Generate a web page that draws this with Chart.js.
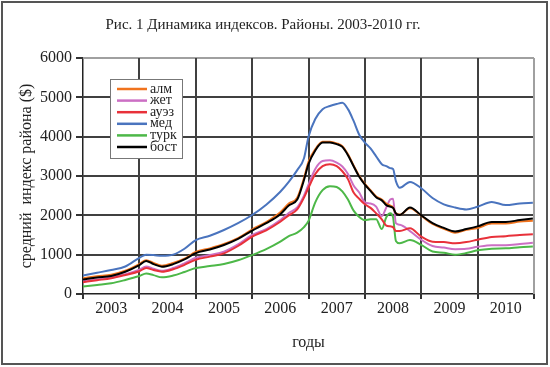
<!DOCTYPE html>
<html>
<head>
<meta charset="utf-8">
<script src="https://cdn.jsdelivr.net/npm/chart.js@4.4.1/dist/chart.umd.min.js"></script>
<style>
  html, body { margin: 0; padding: 0; background: #ffffff; }
  #wrap { width: 550px; height: 367px; position: relative; }
</style>
</head>
<body>
<div id="wrap"><canvas id="c" width="550" height="367"></canvas></div>
<script>
const SERIF = "'Liberation Serif', 'Times New Roman', serif";

const titleText = "Рис. 1 Динамика индексов. Районы. 2003-2010 гг.";
const yTitle = "средний  индекс района ($)";
const xTitle = "годы";
const years = [2003, 2004, 2005, 2006, 2007, 2008, 2009, 2010];
const yTickValues = [0, 1000, 2000, 3000, 4000, 5000, 6000];
const yMin = 0, yMax = 6000, yStep = 1000;

const dates = [2003.0, 2003.25, 2003.5, 2003.75, 2004.0, 2004.12, 2004.25, 2004.4, 2004.6, 2004.8,
  2005.0, 2005.25, 2005.5, 2005.75, 2006.0, 2006.25, 2006.5, 2006.65, 2006.8, 2006.92,
  2007.0, 2007.12, 2007.25, 2007.38, 2007.5, 2007.6, 2007.7, 2007.8, 2007.9, 2008.0,
  2008.1, 2008.2, 2008.3, 2008.38, 2008.45, 2008.5, 2008.55, 2008.62, 2008.8, 2009.0,
  2009.2, 2009.4, 2009.6, 2009.8, 2010.0, 2010.25, 2010.5, 2010.75, 2010.98];

const alm = [400, 450, 490, 590, 760, 860, 790, 720, 790, 900,
  1070, 1160, 1270, 1420, 1640, 1830, 2080, 2300, 2450, 2950,
  3360, 3680, 3870, 3870, 3830, 3760, 3550, 3270, 3000, 2800,
  2640, 2480, 2400, 2300, 2250, 2200, 2050, 2020, 2180, 1990,
  1780, 1660, 1560, 1630, 1680, 1790, 1790, 1840, 1860];

const zhet = [330, 370, 420, 500, 620, 700, 640, 590, 660, 780,
  920, 990, 1075, 1260, 1500, 1650, 1880, 2060, 2200, 2500,
  2780, 3180, 3380, 3400, 3340, 3240, 3050, 2760, 2580, 2330,
  2300, 2220, 1980, 2200, 2400, 2420, 1800, 1760, 1600, 1380,
  1220, 1180, 1140, 1150, 1200, 1240, 1240, 1270, 1300];

const auez = [300, 350, 400, 483, 580, 660, 610, 567, 630, 740,
  870, 950, 1034, 1220, 1457, 1620, 1838, 2000, 2150, 2450,
  2700, 3050, 3250, 3300, 3250, 3120, 2920, 2580, 2420, 2280,
  2190, 2050, 1900, 1740, 1720, 1700, 1600, 1600, 1670, 1460,
  1330, 1320, 1290, 1320, 1380, 1450, 1470, 1500, 1520];

const med = [470, 540, 610, 700, 920, 1000, 990, 970, 1000, 1150,
  1370, 1480, 1627, 1800, 2008, 2270, 2600, 2850, 3150, 3450,
  4000, 4450, 4700, 4780, 4830, 4860, 4700, 4400, 4050, 3850,
  3700, 3500, 3300, 3250, 3200, 3180, 2870, 2700, 2850, 2690,
  2440, 2280, 2200, 2150, 2220, 2340, 2260, 2300, 2320];

const turk = [190, 230, 272, 356, 457, 520, 480, 423, 470, 560,
  660, 710, 763, 860, 990, 1140, 1330, 1470, 1560, 1700,
  1860, 2330, 2640, 2740, 2720, 2610, 2400, 2120, 1960, 1880,
  1900, 1900, 1650, 1950, 2050, 1950, 1350, 1290, 1370, 1250,
  1080, 1050, 1000, 1040, 1110, 1150, 1160, 1190, 1210];

const bost = [370, 420, 460, 567, 737, 840, 760, 695, 760, 880,
  1040, 1130, 1245, 1400, 1610, 1800, 2030, 2250, 2400, 2900,
  3300, 3650, 3850, 3850, 3810, 3740, 3530, 3250, 2980, 2780,
  2620, 2460, 2380, 2260, 2220, 2190, 2050, 2010, 2200, 2000,
  1800, 1680, 1590, 1650, 1720, 1830, 1830, 1880, 1920];

const seriesNames = ["алм", "жет", "ауэз", "мед", "турк", "бост"];
const seriesValues = [alm, zhet, auez, med, turk, bost];
const seriesColors = ["#F0731E", "#CC6FC4", "#E8313A", "#4A74BE", "#4DB848", "#000000"];
const seriesOrder = [2, 4, 3, 5, 6, 1];

const datasets = seriesNames.map((name, k) => ({
  label: name,
  data: dates.map((d, i) => ({ x: d, y: seriesValues[k][i] })),
  borderColor: seriesColors[k],
  backgroundColor: seriesColors[k],
  borderWidth: 2,
  pointRadius: 0,
  fill: false,
  cubicInterpolationMode: 'monotone',
  order: seriesOrder[k],
  xAxisID: 'x'
}));

// grid lines and tick marks, positioned by the chart's own scales
const gridPlugin = {
  id: 'gridLines',
  beforeDatasetsDraw(chart) {
    const ctx = chart.ctx;
    const xs = chart.scales.x, ys = chart.scales.y;
    const left = Math.round(xs.left), right = Math.round(xs.right);
    const top = Math.round(ys.top), bottom = Math.round(ys.bottom);
    ctx.save();
    yTickValues.forEach(v => {
      const py = Math.round(ys.getPixelForValue(v));
      ctx.fillStyle = '#333333';
      ctx.fillRect(left - 7, py - 1, 7, 2);
      if (v !== yMin) {
        ctx.fillStyle = v === yMax ? '#a0a0a0' : '#404040';
        ctx.fillRect(left, py - 1, right - left, 2);
      }
    });
    const xEdges = years.concat([years[years.length - 1] + 1]);
    xEdges.forEach(v => {
      const px = Math.round(xs.getPixelForValue(v));
      if (v !== xEdges[0]) {
        ctx.fillStyle = v === xEdges[xEdges.length - 1] ? '#a0a0a0' : '#404040';
        ctx.fillRect(px - 1, top, 2, bottom - top);
      }
      ctx.fillStyle = '#333333';
      ctx.fillRect(px - 1, bottom, 2, 5);
    });
    ctx.restore();
  }
};

const decorPlugin = {
  id: 'decor',
  afterDraw(chart) {
    const ctx = chart.ctx;
    const xs = chart.scales.x, ys = chart.scales.y;
    ctx.save();
    ctx.strokeStyle = '#555555';
    ctx.lineWidth = 2;
    ctx.strokeRect(2, 2, 545, 362);
    ctx.fillStyle = '#222222';
    ctx.font = "15px " + SERIF;
    ctx.textAlign = 'center';
    ctx.textBaseline = 'middle';
    ctx.fillText(titleText, 263, 25);
    ctx.font = "16px " + SERIF;
    ctx.fillText(xTitle, (xs.left + xs.right) / 2, 343);
    ctx.save();
    ctx.translate(27, (ys.top + ys.bottom) / 2);
    ctx.rotate(-Math.PI / 2);
    ctx.fillText(yTitle, 0, 0);
    ctx.restore();
    const lx = 110, ly = 79, lw = 72, lh = 79;
    ctx.fillStyle = '#ffffff';
    ctx.fillRect(lx, ly, lw, lh);
    ctx.strokeStyle = '#777777';
    ctx.lineWidth = 1;
    ctx.strokeRect(lx + 0.5, ly + 0.5, lw, lh);
    ctx.font = "14px " + SERIF;
    ctx.textAlign = 'left';
    chart.data.datasets.forEach((ds, i) => {
      const yy = ly + 10 + i * 11.6;
      ctx.strokeStyle = ds.borderColor;
      ctx.lineWidth = 2.5;
      ctx.beginPath();
      ctx.moveTo(lx + 7, yy);
      ctx.lineTo(lx + 37, yy);
      ctx.stroke();
      ctx.fillStyle = '#222222';
      ctx.fillText(ds.label, lx + 40, yy);
    });
    ctx.restore();
  }
};

new Chart(document.getElementById('c'), {
  type: 'line',
  data: { datasets },
  options: {
    responsive: false,
    animation: false,
    devicePixelRatio: 1,
    layout: { padding: { top: 58, right: 16, left: 0, bottom: 0 } },
    plugins: { legend: { display: false }, title: { display: false }, tooltip: { enabled: false } },
    scales: {
      x: {
        type: 'linear',
        position: 'bottom',
        min: years[0],
        max: years[years.length - 1] + 1,
        afterFit: (s) => { s.height = 0; },
        ticks: { display: false, stepSize: 1, autoSkip: false },
        grid: { display: false },
        border: { display: true, color: '#222222', width: 1.5 }
      },
      xl: {
        type: 'linear',
        position: 'bottom',
        min: years[0],
        max: years[years.length - 1] + 1,
        afterFit: (s) => { s.height = 73; },
        ticks: {
          stepSize: 0.5,
          autoSkip: false,
          maxRotation: 0,
          padding: 5,
          color: '#222222',
          font: { family: SERIF, size: 16 },
          callback: (v) => (Math.abs(v - Math.floor(v) - 0.5) < 0.01 ? String(Math.floor(v)) : '')
        },
        grid: { display: false, drawTicks: false },
        border: { display: false }
      },
      y: {
        min: yMin,
        max: yMax,
        afterFit: (s) => { s.width = 83; },
        ticks: {
          stepSize: yStep,
          padding: 3,
          color: '#222222',
          font: { family: SERIF, size: 16 },
          callback: (v) => String(v)
        },
        grid: { display: false },
        border: { display: true, color: '#222222', width: 1.5 }
      }
    }
  },
  plugins: [gridPlugin, decorPlugin]
});
</script>
</body>
</html>
